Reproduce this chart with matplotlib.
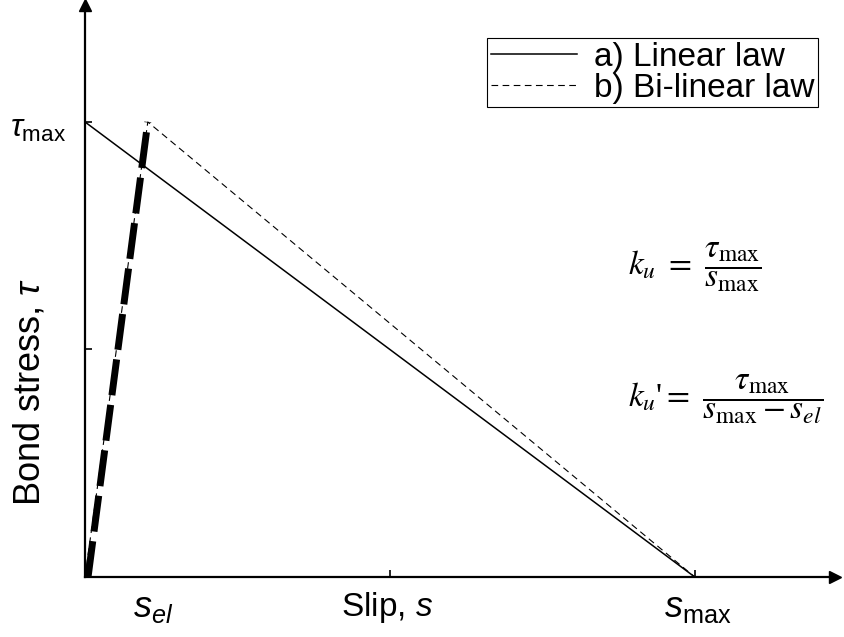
import numpy as np
import matplotlib.pyplot as plt

plt.rcParams['font.family'] = ['Liberation Sans', 'DejaVu Sans']
plt.rcParams['mathtext.fontset'] = 'custom'
plt.rcParams['mathtext.rm'] = 'Liberation Sans'
plt.rcParams['mathtext.it'] = 'Liberation Sans:italic'

# normalised bond-slip law parameters
tau_max = 1.0
s_max = 1.0
s_el = 0.103

# a) linear law
lin_s = [0.0, s_max]
lin_tau = [tau_max, 0.0]

# b) bi-linear law
bil_s = [0.0, s_el, s_max]
bil_tau = [0.0, tau_max, 0.0]

fig = plt.figure(figsize=(8.45, 6.37), dpi=100)
ax = fig.add_axes([85/845, 60/637, 750/845, 572/637])

ax.plot(lin_s, lin_tau, color='black', lw=1.1, label='a) Linear law')
ax.plot(bil_s, bil_tau, color='black', lw=0.8, dashes=(6, 4), label='b) Bi-linear law')
# elastic branch highlighted
ax.plot([bil_s[0] + 0.005, bil_s[1]], [bil_tau[0], bil_tau[1]], color='black', lw=5,
        dashes=(5.2, 1.4), dash_capstyle='butt')

ax.set_xlim(0, 1.23)
ax.set_ylim(0, 1.257)

for side in ['top', 'right']:
    ax.spines[side].set_visible(False)
for side in ['left', 'bottom']:
    ax.spines[side].set_linewidth(1.6)

ax.set_xticks([0.5 * s_max, s_max])
ax.set_yticks([0.5 * tau_max, tau_max])
ax.tick_params(direction='in', length=5, width=1.2, labelbottom=False, labelleft=False)
ax.set_yticks([tau_max], minor=True)
ax.tick_params(axis='y', which='minor', direction='in', length=8, width=1.2)

# axis arrows
ax.plot(1, 0, '>k', ms=8, transform=ax.transAxes, clip_on=False)
ax.plot(0, 1, '^k', ms=8, transform=ax.transAxes, clip_on=False)

# axis annotations
ax.annotate(r'$\tau_{\mathrm{max}}$', xy=(0, tau_max), xycoords=('axes fraction', 'data'),
            xytext=(-14, -5), textcoords='offset points', ha='right', va='center', fontsize=23)
ax.annotate(r'$s_{el}$', xy=(s_el, 0), xycoords=('data', 'axes fraction'),
            xytext=(4, -22), textcoords='offset points', ha='center', va='center', fontsize=26)
ax.annotate(r'$s_{\mathrm{max}}$', xy=(s_max, 0), xycoords=('data', 'axes fraction'),
            xytext=(2, -22), textcoords='offset points', ha='center', va='center', fontsize=26)
ax.annotate(r'Slip, $s$', xy=(0.5 * s_max, 0), xycoords=('data', 'axes fraction'),
            xytext=(-2, -22), textcoords='offset points', ha='center', va='center', fontsize=24)
fig.text(30/845, 1 - 392/637, r'Bond stress, $\tau$', rotation=90, ha='center', va='center',
         fontsize=26)

# stiffness formulas
ax.text(0.89, 0.68, r'$k_u\ =\ \dfrac{\tau_{\max}}{s_{\max}}$', fontsize=24, ha='left',
        va='center', math_fontfamily='stix', family='Liberation Serif')
ax.text(0.89, 0.39, r"$k_u$'$=\ \dfrac{\tau_{\max}}{s_{\max}-s_{el}}$", fontsize=24, ha='left',
        va='center', math_fontfamily='stix', family='Liberation Serif')

leg = ax.legend(loc='upper right', bbox_to_anchor=(0.977, 0.942), borderaxespad=0,
                fontsize=24, handlelength=2.6, handletextpad=0.5, fancybox=False,
                framealpha=1, edgecolor='black', borderpad=0.1, labelspacing=0.0)
leg.get_frame().set_linewidth(0.8)

fig.savefig('out.png', dpi=100)
